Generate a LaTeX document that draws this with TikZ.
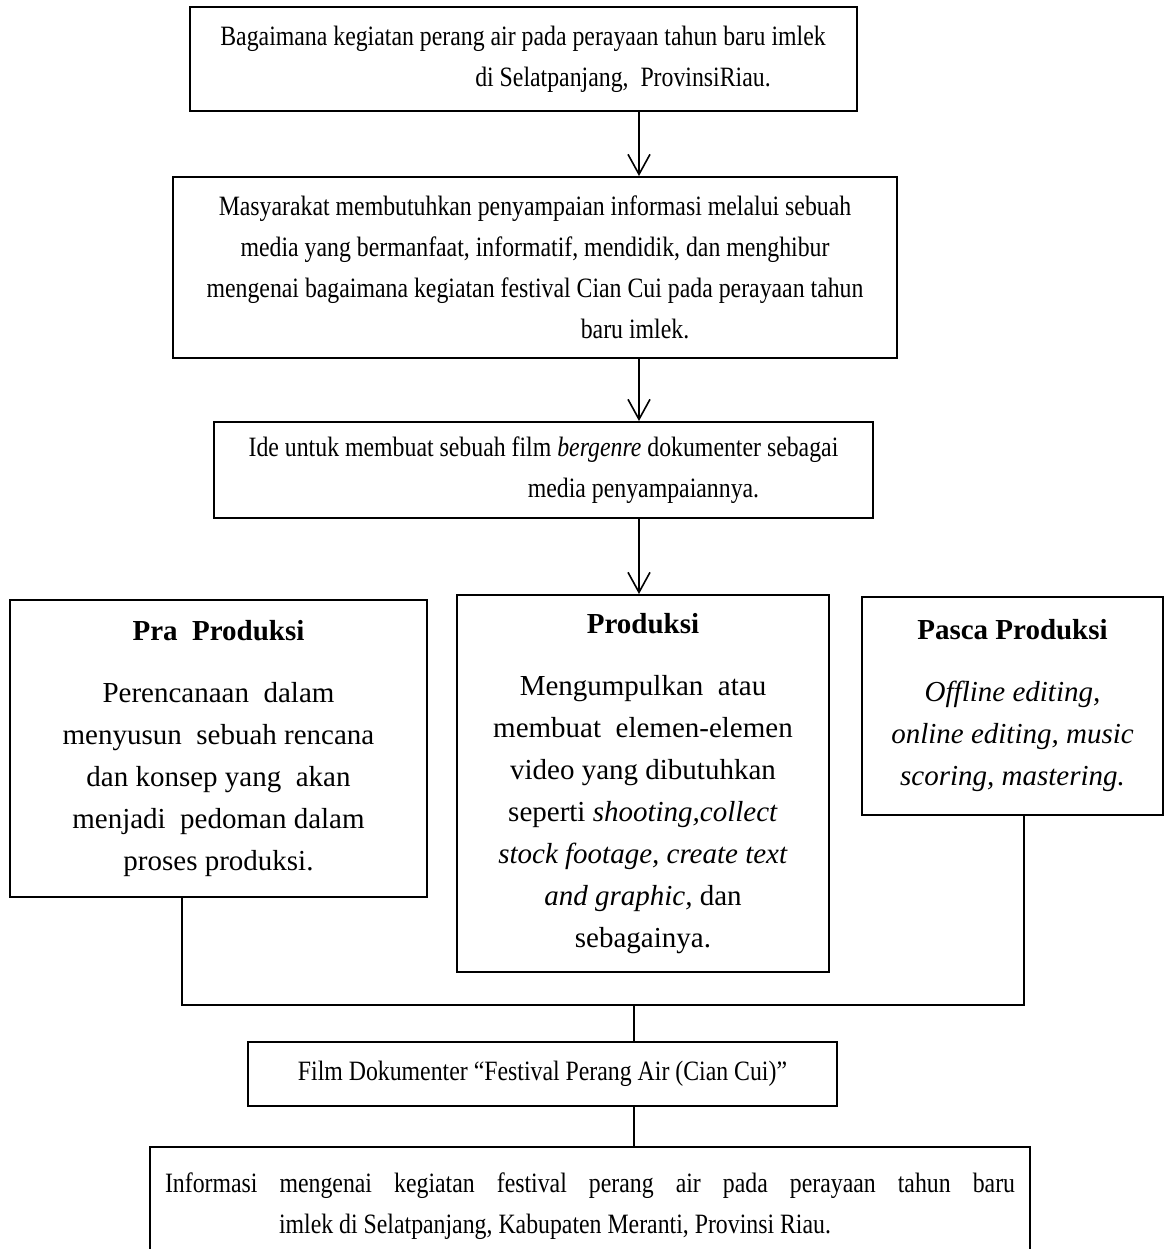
\documentclass[tikz,border=0pt]{standalone}
\usepackage{fontspec}
\setmainfont{Liberation Serif}
\newfontfamily\sempit[FakeStretch=0.85]{Liberation Serif}
\usetikzlibrary{arrows.meta}
\begin{document}
\begin{tikzpicture}[x=0.5pt,y=-0.5pt]
	\tikzstyle{kotak}=[draw,line width=1pt,align=center,inner sep=0pt,font=\sempit\fontsize{14}{20.5}\selectfont]
	\tikzstyle{tahap}=[kotak,font=\rmfamily\fontsize{14.5}{21}\selectfont]
	\tikzstyle{panah}=[-{Straight Barb[length=10pt,width=11pt]},line width=0.8pt]
	\tikzstyle{garis}=[line width=0.8pt]
	\def\Geser{\hspace*{100pt}}
	\useasboundingbox (0,0) rectangle (1166,1249);
	\clip (0,0) rectangle (1166,1249);
	\node[kotak,minimum width=333.5pt,minimum height=52pt] (atas) at (523,59) {Bagaimana kegiatan perang air pada perayaan tahun baru imlek\\ \Geser di Selatpanjang, ~ProvinsiRiau.};
	\node[kotak,minimum width=362pt,minimum height=90.5pt] (masalah) at (535,267.5) {Masyarakat membutuhkan penyampaian informasi melalui sebuah\\ media yang bermanfaat, informatif, mendidik, dan menghibur\\ mengenai bagaimana kegiatan festival Cian Cui pada perayaan tahun\\ \Geser baru imlek.};
	\node[kotak,minimum width=329.5pt,minimum height=48pt] (ide) at (543.5,470) {Ide untuk membuat sebuah film \textit{bergenre} dokumenter sebagai\\ \Geser media penyampaiannya.};
	\node[tahap,minimum width=208.5pt,minimum height=148.5pt] (pra) at (218.5,748.5) {\textbf{Pra~ Produksi}\\[10pt] Perencanaan~ dalam\\ menyusun~ sebuah rencana\\ dan konsep yang~ akan\\ menjadi~ pedoman dalam\\ proses produksi.};
	\node[tahap,minimum width=186pt,minimum height=188.5pt] (produksi) at (643,783.5) {\textbf{Produksi}\\[10pt] Mengumpulkan~ atau\\ membuat~ elemen-elemen\\ video yang dibutuhkan\\ seperti \textit{shooting,collect}\\ \textit{stock footage, create text}\\ \textit{and graphic,} dan\\ sebagainya.};
	\node[tahap,minimum width=150.5pt,minimum height=109pt] (pasca) at (1012.5,706) {\textbf{Pasca Produksi}\\[10pt] \textit{Offline editing,}\\ \textit{online editing, music}\\ \textit{scoring, mastering.}};
	\node[kotak,minimum width=294.5pt,minimum height=32pt] (film) at (542.5,1074) {Film Dokumenter “Festival Perang Air (Cian Cui)”};
	\node[kotak,minimum width=440pt,minimum height=59pt] (info) at (590,1206) {\makebox[425pt][s]{Informasi mengenai kegiatan festival perang air pada perayaan tahun baru}\\ imlek di Selatpanjang, Kabupaten Meranti, Provinsi Riau.\hspace*{35pt}};
	\coordinate (kolom) at (639,0);
	\coordinate (kiri) at (182,1005);
	\coordinate (kanan) at (1024,1005);
	\coordinate (tengah) at (634,1005);
	\draw[panah] (atas.south -| kolom) -- (masalah.north -| kolom);
	\draw[panah] (masalah.south -| kolom) -- (ide.north -| kolom);
	\draw[panah] (ide.south -| kolom) -- (produksi.north -| kolom);
	\draw[garis] (pra.south -| kiri) -- (kiri) -- (kanan) -- (pasca.south -| kanan);
	\draw[garis] (tengah) -- (film.north -| tengah);
	\draw[garis] (film.south -| tengah) -- (info.north -| tengah);
\end{tikzpicture}
\end{document}
